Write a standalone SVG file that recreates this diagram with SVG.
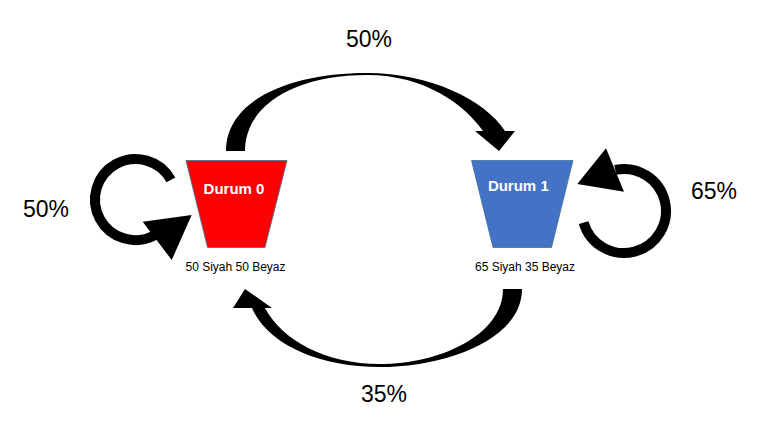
<svg xmlns="http://www.w3.org/2000/svg" width="768" height="432" viewBox="0 0 768 432">
<style>
.pct{font-family:"Liberation Sans",Arial,sans-serif;font-size:23px;fill:#000;text-anchor:middle}
.title{font-family:"Liberation Sans",Arial,sans-serif;font-size:15px;font-weight:bold;fill:#fff;text-anchor:middle}
.sub{font-family:"Liberation Sans",Arial,sans-serif;font-size:12px;fill:#000;text-anchor:middle}
.node{stroke:#41719C;stroke-width:0.8}
.loop{fill:none;stroke:#000;stroke-width:10}
.arr{fill:#000}
</style>
<rect width="768" height="432" fill="#fff"/>
<g id="connectors">
<path class="arr" d="M226,151 C226,100 290,73 367,73 C430,73 485,100 505,131 L515,131 L499,151 L475,131 L483,131 C465,105 425,75 367,75 C295,75 245,105 245,151 Z"/>
<path class="arr" d="M522,289 C522,340 445,367 380,367 C320,367 268,345 252,308 L233,308 L245,289 L272,308 L265,308 C282,340 325,364 380,364 C440,364 503,335 503,289 Z"/>
<path class="loop" d="M170.9,179.9 A40.5,40.5 0 1,0 154.5,235.3"/>
<polygon class="arr" points="142.7,221.7 191.7,215 171.7,260"/>
<path class="loop" d="M583.6,222.6 A42,42 0 1,0 615.3,169.9"/>
<polygon class="arr" points="577.3,184 606,148.3 624,191.7"/>
</g>
<g id="state0">
<polygon class="node" points="186,160.5 287,160.5 265,247.5 207.5,247.5" fill="#FF0000"/>
<text class="title" x="234" y="194">Durum 0</text>
<text class="sub" x="235.5" y="271">50 Siyah 50 Beyaz</text>
</g>
<g id="state1">
<polygon class="node" points="471.5,160.5 573,160.5 551.5,247.5 493,247.5" fill="#4472C4"/>
<text class="title" x="518.3" y="190.7">Durum 1</text>
<text class="sub" x="525" y="270.7">65 Siyah 35 Beyaz</text>
</g>
<g id="labels">
<text class="pct" x="369" y="47">50%</text>
<text class="pct" x="384" y="402">35%</text>
<text class="pct" x="714" y="199">65%</text>
<text class="pct" x="46" y="217">50%</text>
</g>
</svg>
